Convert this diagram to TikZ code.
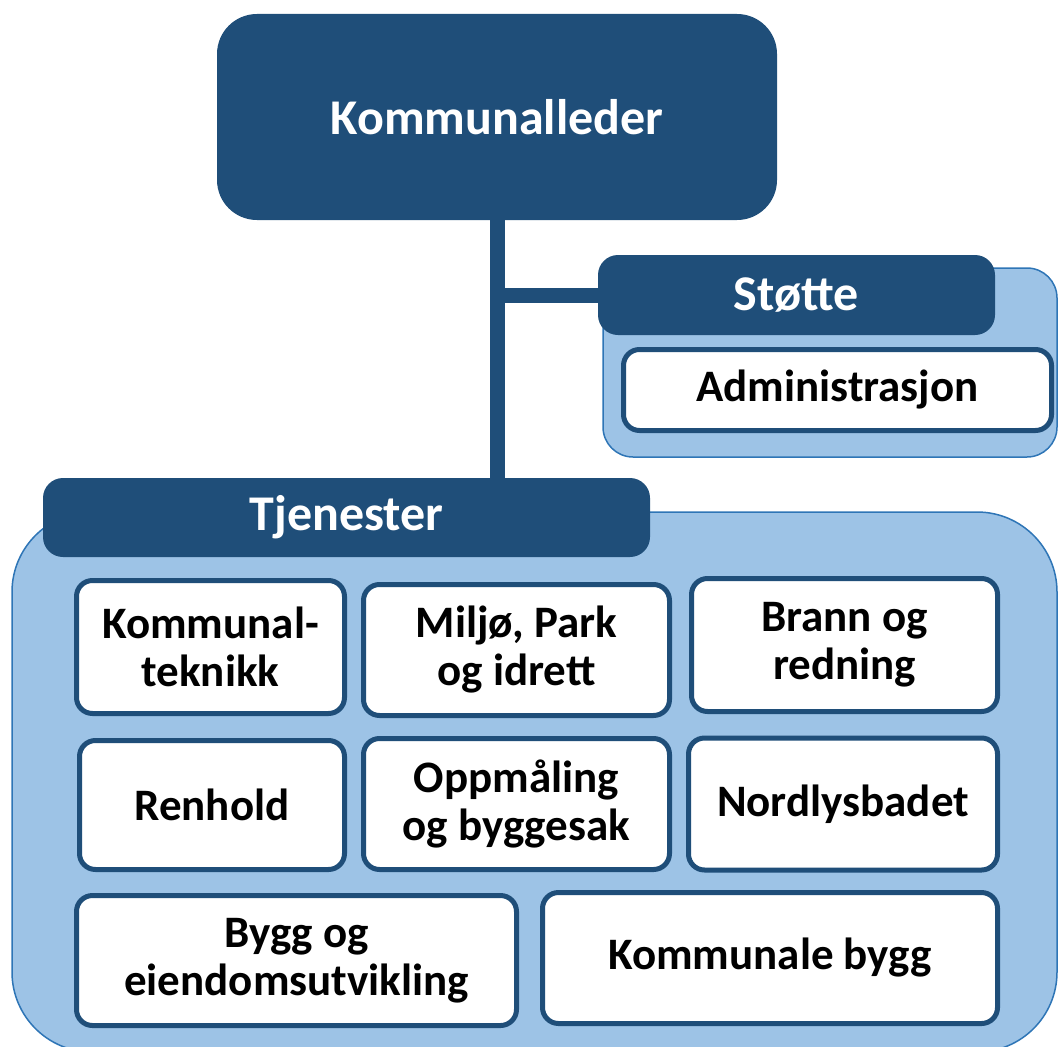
\documentclass[tikz,border=0pt]{standalone}
\usepackage{fontspec}
\setmainfont{Carlito}
\definecolor{dk}{HTML}{1F4E79}
\definecolor{lt}{HTML}{9DC3E6}
\definecolor{ltb}{HTML}{2E75B6}
\tikzset{
  grp/.style={draw=ltb, line width=1.5pt, fill=lt, rounded corners=#1},
  hdr/.style={fill=dk, text=white, font=\bfseries\fontsize{50}{60}\selectfont, inner sep=0pt, rounded corners=20pt},
  unit/.style={draw=dk, line width=5pt, fill=white, text=black, align=center, inner sep=0pt, rounded corners=16pt, font=\bfseries\fontsize{45}{48}\selectfont},
  conn/.style={draw=dk, line width=15pt}
}
\begin{document}
\begin{tikzpicture}[x=1pt,y=-1pt]
\useasboundingbox (0,0) rectangle (1059,1046);
\begin{scope}
\clip (0,0) rectangle (1059,1046);
% group backgrounds
\node[grp=30pt, minimum width=454pt, minimum height=189pt] (stg) at (830,362.5) {};
\node[grp=80pt, minimum width=1045pt, minimum height=540pt] (tjg) at (534.5,782) {};
% headers
\node[hdr, rounded corners=40pt, minimum width=560pt, minimum height=206pt] (kl) at (497,117) {Kommunalleder};
\node[hdr, minimum width=397pt, minimum height=80pt] (st) at (796.5,295) {\raisebox{-3pt}{Støtte}};
\node[hdr, minimum width=607pt, minimum height=79pt] (tj) at (346.5,517.5) {\raisebox{-3pt}{Tjenester}};
% connectors
\draw[conn] (kl.south) -- (kl.south |- tj.north);
\draw[conn] (kl.south |- st.west) -- (st.west);
% units
\node[unit, minimum width=428pt, minimum height=81pt] (adm) at (837.5,390) {Administrasjon};
\node[unit, minimum width=268pt, minimum height=133pt] (kt) at (210.5,647) {Kommunal-\\teknikk};
\node[unit, minimum width=306pt, minimum height=131pt] (mp) at (516.5,650) {Miljø, Park\\og idrett};
\node[unit, minimum width=306pt, minimum height=133pt] (br) at (844.5,645) {Brann og\\redning};
\node[unit, minimum width=265pt, minimum height=129pt] (rh) at (212,805) {Renhold};
\node[unit, minimum width=306pt, minimum height=131pt] (op) at (516.5,804) {Oppmåling\\og byggesak};
\node[unit, minimum width=309pt, minimum height=132pt] (nb) at (843,804) {Nordlysbadet};
\node[unit, minimum width=440pt, minimum height=130pt] (be) at (296.5,960.5) {Bygg og\\eiendomsutvikling};
\node[unit, minimum width=455pt, minimum height=131pt] (kb) at (770,958) {Kommunale bygg};
\end{scope}
\end{tikzpicture}
\end{document}
